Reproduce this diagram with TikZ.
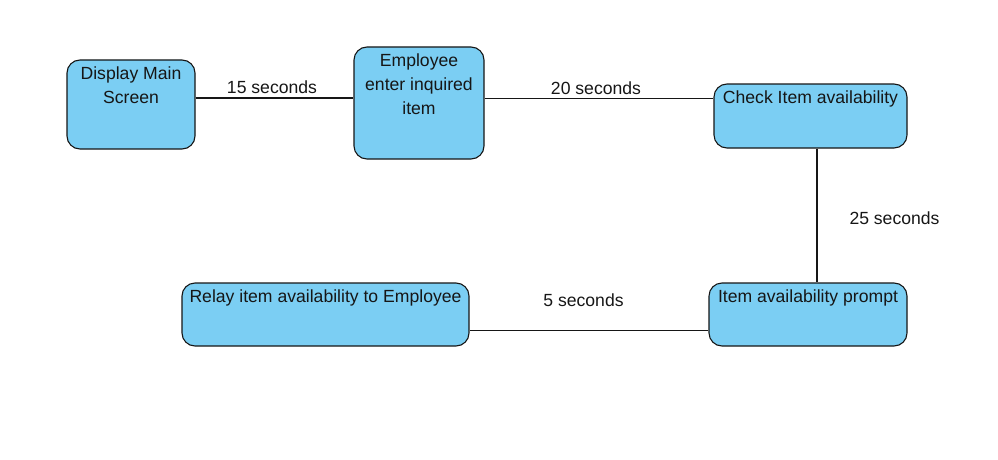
\documentclass[tikz,border=0pt]{standalone}
\usepackage{fontspec}
\setmainfont{Liberation Sans}
\usepackage{tikz}
\usetikzlibrary{positioning,calc}
\definecolor{fcink}{HTML}{161616}
\definecolor{fcfill}{HTML}{7BCEF3}
\tikzset{
  % the process steps
  fc state/.style={
    draw=fcink, line width=1.1pt, fill=fcfill,
    rounded corners=13pt, inner sep=0pt,
  },
  % step names, set against the top edge of their box
  fc statetext/.style={
    anchor=north, yshift=-7pt, inner sep=0pt,
    text=fcink, align=center,
    font=\fontsize{17.6}{24}\selectfont,
  },
  % plain links between the steps
  fc link/.style={
    draw=fcink, line width=1.1pt,
  },
  % durations beside the links
  fc timelabel/.style={
    text=fcink, inner sep=0pt,
    font=\fontsize{17.6}{24}\selectfont,
  },
}

\begin{document}
\begin{tikzpicture}[x=1pt,y=-1pt]
  \useasboundingbox (0,0) rectangle (998,460);

  % ---- the steps -----------------------------------------------------------
  \node[fc state, minimum width=128pt, minimum height=89pt,
        label={[fc statetext]north:{Display Main\\Screen}}]
    (main) at (131,104.5) {};
  \node[fc state, minimum width=130pt, minimum height=112pt,
        label={[fc statetext]north:{Employee\\enter inquired\\item}}]
    (inquire) at (419,103) {};
  \node[fc state, minimum width=193pt, minimum height=64pt,
        label={[fc statetext]north:{Check Item availability}}]
    (check) at (810.5,116) {};
  \node[fc state, minimum width=198pt, minimum height=63pt,
        label={[fc statetext]north:{Item availability prompt}}]
    (prompt) at (808,314.5) {};
  \node[fc state, minimum width=287pt, minimum height=63pt,
        label={[fc statetext]north:{Relay item availability to Employee}}]
    (relay) at (325.5,314.5) {};

  % ---- links between them --------------------------------------------------
  \draw[fc link] ([yshift=6.5pt]main.east) -- ([yshift=6.5pt]main.east -| inquire.west);
  \draw[fc link] ([yshift=4.5pt]inquire.east) -- ([yshift=4.5pt]inquire.east -| check.west);
  \draw[fc link] ([xshift=6.5pt]check.south) -- ([xshift=6.5pt]check.south |- prompt.north);
  \draw[fc link] ([yshift=-16pt]prompt.west) -- ([yshift=-16pt]prompt.west -| relay.east);

  % ---- how long each one takes ---------------------------------------------
  \node[fc timelabel] (t15) at (272,87)    {15 seconds};
  \node[fc timelabel] (t20) at (596,88)    {20 seconds};
  \node[fc timelabel] (t25) at (894.5,218) {25 seconds};
  \node[fc timelabel] (t5)  at (583.5,300) {5 seconds};

\end{tikzpicture}
\end{document}
